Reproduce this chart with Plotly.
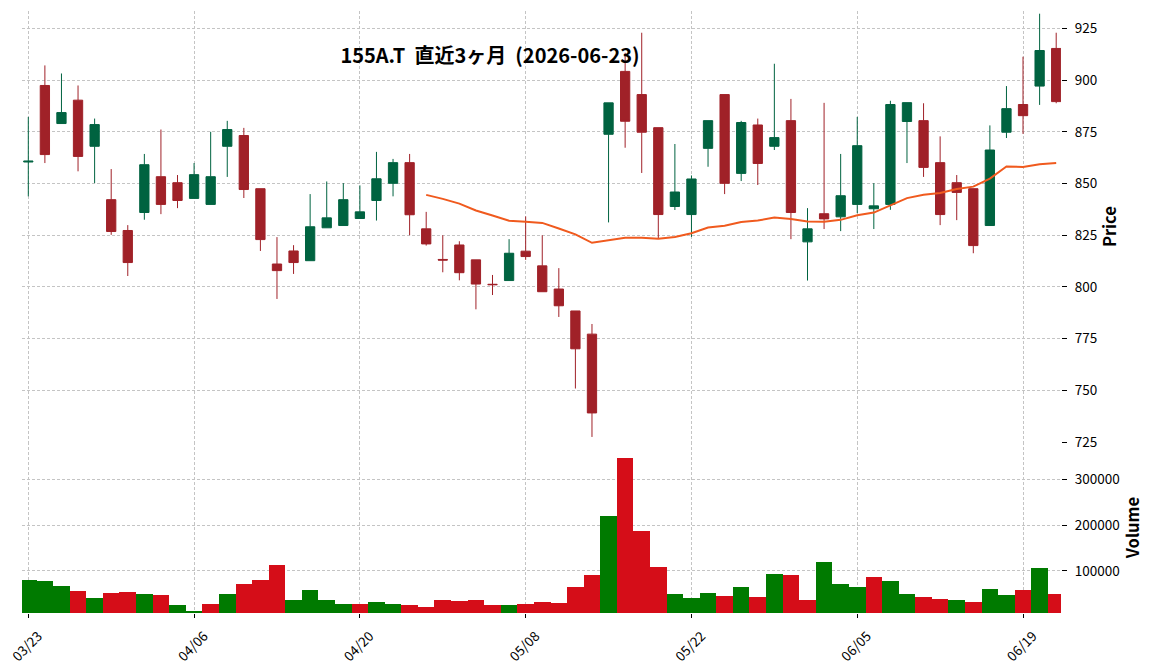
import plotly.graph_objects as go
import pandas as pd

# ---------------- data ----------------
dates = [
    "03/23", "03/24", "03/25", "03/26", "03/27", "03/30", "03/31",
    "04/01", "04/02", "04/03", "04/06", "04/07", "04/08", "04/09", "04/10",
    "04/13", "04/14", "04/15", "04/16", "04/17", "04/20", "04/21", "04/22",
    "04/23", "04/24", "04/27", "04/28", "04/30",
    "05/01", "05/07", "05/08", "05/11", "05/12", "05/13", "05/14", "05/15",
    "05/18", "05/19", "05/20", "05/21", "05/22", "05/25", "05/26", "05/27",
    "05/28", "05/29",
    "06/01", "06/02", "06/03", "06/04", "06/05", "06/08", "06/09", "06/10",
    "06/11", "06/12", "06/15", "06/16", "06/17", "06/18", "06/19", "06/22",
    "06/23",
]

opens = [
    860.4, 897.4, 879.0, 890.3, 868.0, 842.2, 827.3, 836.0, 853.3, 850.4,
    842.8, 839.9, 868.0, 873.2, 847.5, 811.1, 817.4, 812.7, 828.6, 829.7,
    833.1, 841.8, 850.1, 860.1, 828.1, 813.3, 820.3, 813.1, 801.3, 803.1,
    817.3, 810.2, 799.0, 788.4, 777.2, 873.8, 904.2, 893.0, 877.0, 838.9,
    835.0, 867.0, 893.0, 854.9, 878.3, 868.0, 880.4, 821.8, 835.4, 833.9,
    839.9, 837.8, 839.9, 880.0, 880.4, 860.1, 850.4, 847.5, 829.7, 874.8,
    888.2, 897.1, 915.3,
]
highs = [
    882.2, 907.1, 903.2, 897.4, 881.4, 857.0, 829.9, 864.3, 876.1, 854.1,
    859.9, 875.0, 880.3, 876.9, 847.5, 824.1, 820.2, 844.9, 851.0, 850.2,
    849.1, 865.3, 861.9, 864.3, 836.3, 825.0, 822.1, 813.1, 805.8, 823.1,
    834.1, 825.0, 809.1, 788.4, 782.1, 889.0, 913.2, 922.9, 877.0, 869.1,
    853.9, 880.4, 893.0, 880.3, 881.4, 907.9, 890.9, 838.1, 889.0, 864.3,
    882.2, 850.2, 890.0, 889.1, 888.8, 872.8, 854.1, 847.5, 878.1, 897.1,
    911.3, 932.1, 922.9,
]
lows = [
    843.8, 859.9, 879.0, 855.9, 850.2, 825.2, 805.3, 832.5, 835.2, 838.1,
    842.8, 839.9, 853.2, 843.0, 817.4, 794.2, 806.3, 812.7, 828.6, 829.7,
    833.1, 832.1, 843.8, 825.0, 820.0, 807.1, 803.2, 789.2, 796.1, 803.1,
    813.1, 797.7, 785.5, 750.9, 727.5, 831.2, 867.3, 855.1, 823.4, 837.2,
    824.2, 858.1, 844.9, 851.2, 849.3, 866.2, 823.1, 803.1, 828.0, 827.0,
    835.7, 828.0, 837.3, 859.9, 853.2, 829.9, 832.3, 816.3, 829.7, 872.0,
    874.0, 888.0, 888.8,
]
closes = [
    860.8, 864.0, 884.3, 863.1, 878.5, 826.8, 811.8, 859.1, 839.9, 841.8,
    854.3, 853.3, 876.1, 847.1, 822.9, 807.9, 811.8, 829.1, 833.4, 842.2,
    836.3, 852.3, 860.1, 834.9, 820.8, 813.0, 806.9, 801.4, 801.1, 816.3,
    814.7, 797.7, 790.9, 770.1, 739.1, 889.0, 880.1, 874.8, 835.0, 845.9,
    852.2, 880.4, 850.1, 879.5, 859.7, 872.2, 836.0, 828.1, 832.9, 844.1,
    868.3, 839.2, 888.2, 889.1, 857.8, 835.0, 845.7, 820.0, 866.2, 886.2,
    882.8, 914.3, 889.6,
]
volumes = [
    79000, 76800, 65900, 55100, 39900, 50700, 52900, 48600, 46400, 24600,
    11600, 26800, 48600, 70300, 79000, 111600, 35500, 57200, 35500, 26800,
    26800, 31200, 26800, 24600, 20300, 35500, 33300, 35500, 24600, 24600,
    26800, 31200, 29000, 63800, 89900, 220300, 346400, 185500, 107200, 48600,
    39900, 50700, 44200, 63800, 42000, 92000, 89900, 35500, 118100, 70300,
    63800, 85500, 76800, 48600, 42000, 37700, 35500, 31200, 59400, 46400,
    57200, 105100, 48600,
]

tick_idx = [0, 10, 20, 30, 40, 50, 60]
tick_labels = [dates[i] for i in tick_idx]
price_ticks = [725, 750, 775, 800, 825, 850, 875, 900, 925]
volume_ticks = [100000, 200000, 300000]
volume_tick_labels = ["100000", "200000", "300000"]

title_text = "155A.T  直近3ヶ月  (2026-06-23)"

# ---------------- styles ----------------
UP = "#006340"
DOWN = "#A02128"
VOL_UP = "#007a00"
VOL_DOWN = "#d50d18"
MA_COLOR = "#f05a1e"
GRID = "#c4c4c4"
FONT = "Noto Sans CJK JP"

idx = list(range(len(dates)))
ma25 = pd.Series(closes).rolling(25).mean()

vol_colors = [VOL_UP]
for i in range(1, len(closes)):
    vol_colors.append(VOL_UP if closes[i] >= closes[i - 1] else VOL_DOWN)

fig = go.Figure()

fig.add_trace(go.Candlestick(
    x=idx, open=opens, high=highs, low=lows, close=closes,
    increasing=dict(line=dict(color=UP, width=1), fillcolor=UP),
    decreasing=dict(line=dict(color=DOWN, width=1), fillcolor=DOWN),
    whiskerwidth=0,
    xaxis="x", yaxis="y", showlegend=False, name="",
))

fig.add_trace(go.Scatter(
    x=idx, y=ma25, mode="lines",
    line=dict(color=MA_COLOR, width=2),
    xaxis="x", yaxis="y", showlegend=False, hoverinfo="skip",
))

fig.add_trace(go.Bar(
    x=idx, y=volumes, width=1.0,
    marker=dict(color=vol_colors, line=dict(width=0)),
    xaxis="x2", yaxis="y2", showlegend=False,
))

split = 0.2837
xr = [-0.38, 62.29]

common_x = dict(
    range=xr, tickvals=tick_idx, showgrid=True, gridcolor=GRID,
    griddash="3px,2px", gridwidth=0.8, zeroline=False, showline=False,
    automargin=False,
)

fig.update_layout(
    width=1152, height=670,
    margin=dict(l=22, r=91, t=11, b=57, autoexpand=False),
    paper_bgcolor="white", plot_bgcolor="white",
    font=dict(family=FONT, size=13.5, color="black"),
    boxgap=0.3, boxgroupgap=0.2,
    bargap=0,
    showlegend=False,
    title=dict(
        text=title_text, x=490 / 1152, xref="container", xanchor="center",
        y=1 - 56 / 670, yref="container", yanchor="middle",
        font=dict(family=FONT, size=20, color="black", weight="bold"),
    ),
    xaxis=dict(
        **common_x, domain=[0, 1], anchor="y", showticklabels=False,
        ticks="", rangeslider=dict(visible=False),
    ),
    xaxis2=dict(
        **common_x, domain=[0, 1], anchor="y2", matches="x",
        ticktext=tick_labels, tickangle=-45, ticks="outside", ticklen=4,
        tickwidth=1, tickcolor="black", ticklabelshift=10, ticklabelstandoff=5,
        tickfont=dict(family=FONT, size=13.5, color="black"),
    ),
    yaxis=dict(
        domain=[split, 1], anchor="x", side="right", automargin=False,
        range=[724.95, 933.4], tickvals=price_ticks,
        ticks="outside", ticklen=5, tickwidth=1, tickcolor="black",
        ticklabelstandoff=5,
        showgrid=True, gridcolor=GRID, griddash="3px,2px", gridwidth=0.8,
        zeroline=False, showline=False,
        tickfont=dict(family=FONT, size=13.5, color="black"),
        title=dict(text="Price", standoff=6,
                   font=dict(family=FONT, size=16.5, color="black", weight="bold")),
    ),
    yaxis2=dict(
        domain=[0, split], anchor="x2", side="right", automargin=False,
        range=[7800, 381000], tickvals=volume_ticks, ticktext=volume_tick_labels,
        ticks="outside", ticklen=5, tickwidth=1, tickcolor="black",
        ticklabelstandoff=5,
        showgrid=True, gridcolor=GRID, griddash="3px,2px", gridwidth=0.8,
        zeroline=False, showline=False,
        tickfont=dict(family=FONT, size=13.5, color="black"),
        title=dict(text="Volume", standoff=6,
                   font=dict(family=FONT, size=16.5, color="black", weight="bold")),
    ),
)

fig.write_html("out.html")
